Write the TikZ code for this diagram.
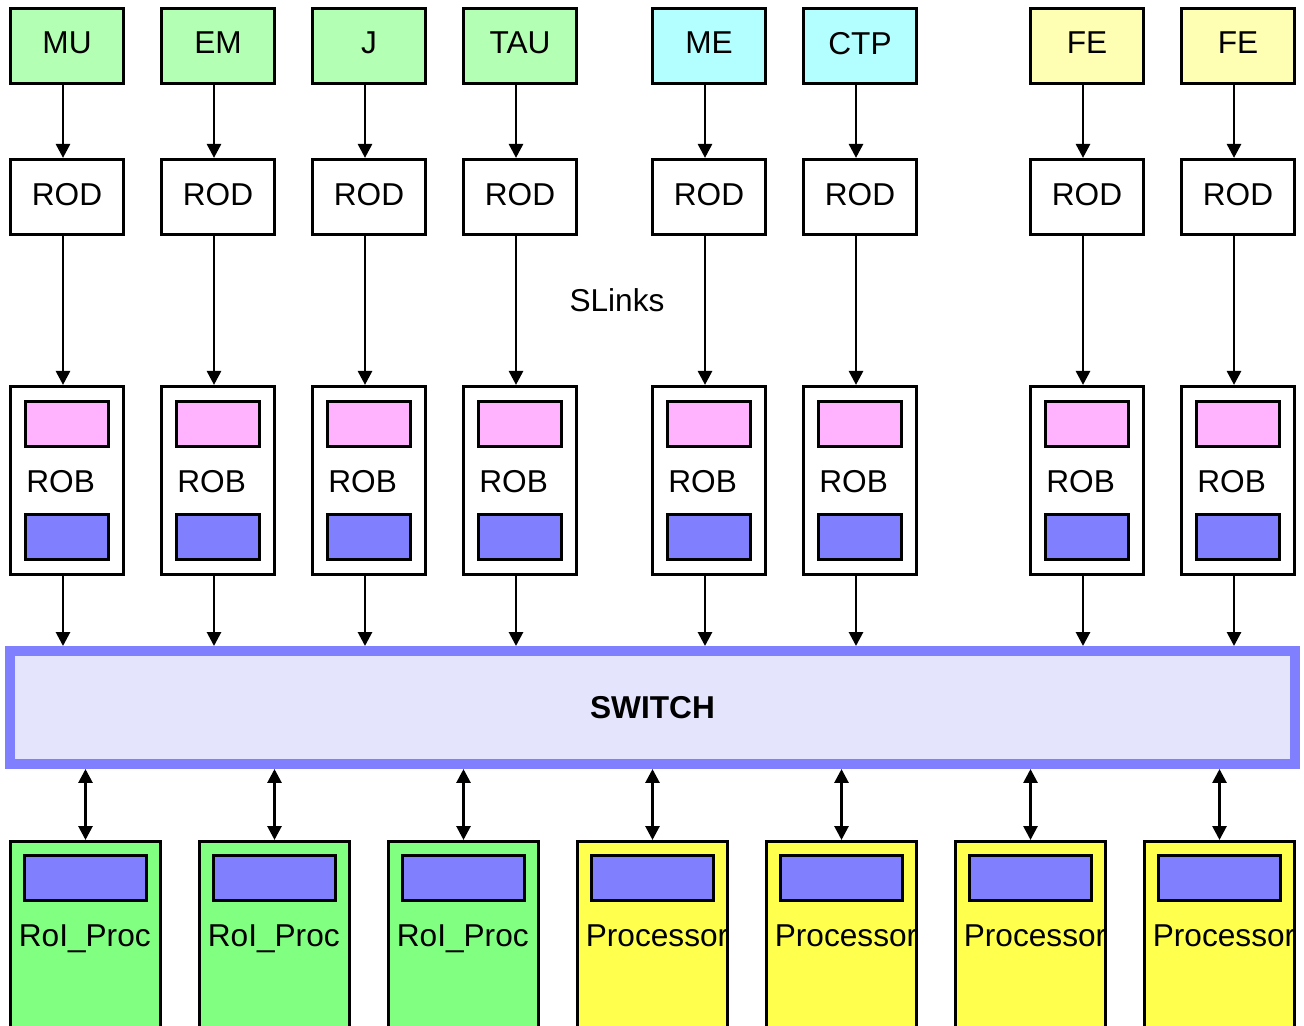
\documentclass[tikz,border=0pt]{standalone}
\usepackage{fontspec}
\setmainfont{Liberation Sans}
\usetikzlibrary{arrows.meta,positioning}

\definecolor{srcgreen}{HTML}{B3FFB3}
\definecolor{srccyan}{HTML}{B3FFFF}
\definecolor{srcyellow}{HTML}{FFFFB3}
\definecolor{bufpink}{HTML}{FFB3FF}
\definecolor{bufblue}{HTML}{8080FF}
\definecolor{swfill}{HTML}{E4E4FC}
\definecolor{roigreen}{HTML}{80FF80}
\definecolor{procyellow}{HTML}{FFFF4D}

\begin{document}
\begin{tikzpicture}[x=0.02cm, y=-0.02cm,
    every node/.style={font=\fontsize{18}{22}\selectfont},
    box/.style={draw, line width=1.8pt, minimum width=2.26cm, minimum height=1.5cm, inner sep=0pt, text depth=0.12cm},
    source/.style={box, fill=#1},
    robbox/.style={box, minimum height=3.76cm},
    buf/.style={draw, line width=1.8pt, fill=#1, minimum width=1.66cm, minimum height=0.9cm, inner sep=0pt},
    proc/.style={draw, line width=1.8pt, fill=#1, minimum width=3.0cm, minimum height=4.4cm, anchor=north, inner sep=0pt},
    arrow/.style={->, >={Triangle[length=0.28cm, width=0.28cm]}, line width=1.6pt},
    dblarrow/.style={arrow, <->},
    label/.style={anchor=base west, inner sep=0pt}
]
\useasboundingbox (0,0) rectangle (1304,1026);
\clip (0,0) rectangle (1304,1026);

% Sources, RODs and ROBs
\foreach \x/\n/\t/\c in {68/1/MU/srcgreen, 219/2/EM/srcgreen, 370/3/J/srcgreen, 521/4/TAU/srcgreen,
                         710/5/ME/srccyan, 861/6/CTP/srccyan, 1088/7/FE/srcyellow, 1239/8/FE/srcyellow} {
    \node[source=\c] (src\n) at (\x-1,46) {\t};
    \node[box] (rod\n) at (\x-1,197) {ROD};
    \node[robbox] (rob\n) at (\x-1,480.5) {};
    \node[buf=bufpink] (pink\n) at (\x-1,424) {};
    \node[buf=bufblue] (blue\n) at (\x-1,537) {};
    \node[label] (roblbl\n) at (\x-42,493) {ROB};
    \draw[arrow] ([xshift=-0.08cm]src\n.south) -- ([xshift=-0.08cm]rod\n.north);
    \draw[arrow] ([xshift=-0.08cm]rod\n.south) -- ([xshift=-0.08cm]rob\n.north);
}

\node (slinks) at (617,300) {SLinks};

% Switch
\node[draw=bufblue, line width=0.2cm, fill=swfill, minimum width=25.7cm, minimum height=2.26cm,
      font=\bfseries\fontsize{18}{22}\selectfont] (sw) at (652.5,707.5) {SWITCH};

\foreach \n in {1,...,8}
    \draw[arrow] ([xshift=-0.08cm]rob\n.south) -- ([xshift=-0.08cm]rob\n.south |- sw.north);

% Processors
\foreach \x/\n/\t/\c in {85.5/1/RoI\_Proc/roigreen, 274.5/2/RoI\_Proc/roigreen, 463.5/3/RoI\_Proc/roigreen,
                         652.5/4/Processor/procyellow, 841.5/5/Processor/procyellow,
                         1030.5/6/Processor/procyellow, 1219.5/7/Processor/procyellow} {
    \node[proc=\c] (proc\n) at (\x,840) {};
    \node[buf=bufblue, minimum width=2.44cm] (mem\n) at (\x,878) {};
    \begin{scope}
        \clip ([xshift=1.8pt]proc\n.south west) rectangle ([xshift=-1.8pt]proc\n.north east);
        \node[label] (proclbl\n) at (\x-67,946) {\t};
    \end{scope}
    \draw[dblarrow] (proc\n.north) -- (proc\n.north |- sw.south);
}

\end{tikzpicture}
\end{document}
